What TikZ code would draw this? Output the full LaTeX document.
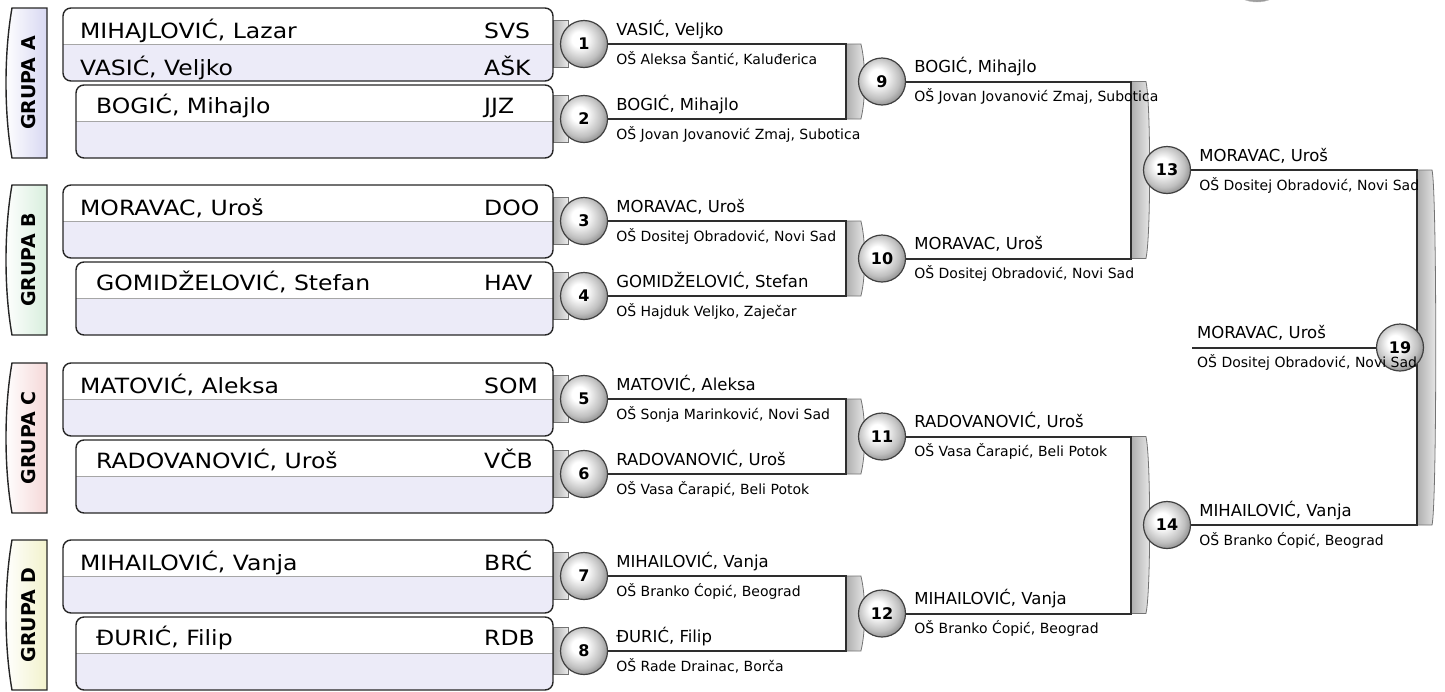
\documentclass[tikz,border=0pt]{standalone}
\usepackage{fontspec}
\setmainfont{DejaVu Sans}
\newfontfamily\boxfont[FakeStretch=1.12]{DejaVu Sans}
\usetikzlibrary{calc,backgrounds}
\definecolor{rowlav}{HTML}{ECEBF8}
\definecolor{grpA}{HTML}{D8D8F2}
\definecolor{grpB}{HTML}{D8EEDD}
\definecolor{grpC}{HTML}{F5D8D8}
\definecolor{grpD}{HTML}{F2F2CC}
\definecolor{wire}{HTML}{2E2E2E}
\pgfdeclareradialshading{knobshade}{\pgfpoint{-6bp}{6bp}}{color(0bp)=(white); color(8bp)=(white); color(22bp)=(black!25); color(28bp)=(black!42); color(50bp)=(black!42)}

\begin{document}
\begin{tikzpicture}[x=1pt,y=-1pt,
		knob/.style={circle,draw=black!75,line width=1.2pt,shading=knobshade,inner sep=0pt,minimum size=47pt,font=\bfseries\fontsize{16}{16}\selectfont},
		wire/.style={draw=wire,line width=2pt},
		bar/.style={draw=black!55,line width=0.8pt,left color=black!32,right color=black!8},
		pname/.style={font=\boxfont\fontsize{21}{21}\selectfont,inner sep=0pt,anchor=base west},
		wname/.style={font=\fontsize{16.5}{16.5}\selectfont,inner sep=0pt,anchor=base west},
		school/.style={font=\fontsize{14}{14}\selectfont,inner sep=0pt,anchor=base west},
		grp/.style={rotate=90,font=\bfseries\fontsize{19}{19}\selectfont}]
	\useasboundingbox (0,0) rectangle (1445,691);
	\begin{scope}
		\clip (0,0) rectangle (1445,691);
		\path[shading=knobshade,draw=black!25] (1257,-34) circle[radius=36];
	\end{scope}
	\foreach \g/\t/\col in {A/8/grpA,B/185/grpB,C/363/grpC,D/540/grpD}{
		\path[draw=black!85,line width=1.4pt,left color=white,right color=\col] (47,\t) -- (12,\t) .. controls (4,\t+45) and (4,\t+105) .. (12,\t+150) -- (47,\t+150) -- cycle;
		\node[grp] (g\g) at (29,\t+75) {GRUPA \g};
		\foreach \bx/\by in {63/0,76/77}{
			\begin{scope}
				\clip[rounded corners=8] (\bx,\t+\by) rectangle (553,\t+\by+73);
				\fill[white] (\bx,\t+\by) rectangle (553,\t+\by+36);
				\fill[rowlav] (\bx,\t+\by+36) rectangle (553,\t+\by+73);
			\end{scope}
			\draw[black!35,line width=1pt] (\bx,\t+\by+36) -- (553,\t+\by+36);
			\draw[black!85,line width=1.4pt,rounded corners=8] (\bx,\t+\by) rectangle (553,\t+\by+73);
		}
	}
	\foreach \nm/\cd/\x/\y [count=\i] in {{MIHAJLOVIĆ, Lazar}/SVS/80/38,{VASIĆ, Veljko}/AŠK/80/75,{BOGIĆ, Mihajlo}/JJZ/96/113,
		{MORAVAC, Uroš}/DOO/80/215,{GOMIDŽELOVIĆ, Stefan}/HAV/96/290,{MATOVIĆ, Aleksa}/SOM/80/393,
		{RADOVANOVIĆ, Uroš}/VČB/96/468,{MIHAILOVIĆ, Vanja}/BRĆ/80/570,{ĐURIĆ, Filip}/RDB/96/645}{
		\node[pname] (p\i) at (\x,\y) {\nm};
		\node[pname] (t\i) at (484,\y) {\cd};
	}
	\foreach \i/\y in {1/44,2/119,3/221,4/296,5/399,6/474,7/576,8/651}
		\node[knob] (m\i) at (584,\y) {\i};
	\foreach \a/\b/\c in {1/2/9,3/4/10,5/6/11,7/8/12}
		\node[knob] (m\c) at ($(m\a)!.5!(m\b)+(298,0)$) {\c};
	\foreach \a/\b/\c in {9/10/13,11/12/14}
		\node[knob] (m\c) at ($(m\a)!.5!(m\b)+(285,0)$) {\c};
	\node[knob] (m19) at ($(m13)!.5!(m14)+(233,0)$) {19};
	\foreach \c in {9,...,14}
		\coordinate (b\c) at ($(m\c.west)+(-12,0)$);
	\coordinate (b19) at ($(m19)+(17,0)$);
	\coordinate (f19) at ($(m19)+(-208,0)$);
	\foreach \i/\nm/\sc in {1/{VASIĆ, Veljko}/{OŠ Aleksa Šantić, Kaluđerica},2/{BOGIĆ, Mihajlo}/{OŠ Jovan Jovanović Zmaj, Subotica},
		3/{MORAVAC, Uroš}/{OŠ Dositej Obradović, Novi Sad},4/{GOMIDŽELOVIĆ, Stefan}/{OŠ Hajduk Veljko, Zaječar},
		5/{MATOVIĆ, Aleksa}/{OŠ Sonja Marinković, Novi Sad},6/{RADOVANOVIĆ, Uroš}/{OŠ Vasa Čarapić, Beli Potok},
		7/{MIHAILOVIĆ, Vanja}/{OŠ Branko Ćopić, Beograd},8/{ĐURIĆ, Filip}/{OŠ Rade Drainac, Borča},
		9/{BOGIĆ, Mihajlo}/{OŠ Jovan Jovanović Zmaj, Subotica},10/{MORAVAC, Uroš}/{OŠ Dositej Obradović, Novi Sad},
		11/{RADOVANOVIĆ, Uroš}/{OŠ Vasa Čarapić, Beli Potok},12/{MIHAILOVIĆ, Vanja}/{OŠ Branko Ćopić, Beograd},
		13/{MORAVAC, Uroš}/{OŠ Dositej Obradović, Novi Sad},14/{MIHAILOVIĆ, Vanja}/{OŠ Branko Ćopić, Beograd}}{
		\node[wname] (n\i) at ($(m\i.east)+(8,-9)$) {\nm};
		\node[school] (s\i) at ($(m\i.east)+(8,20)$) {\sc};
	}
	\node[wname] (n19) at ($(f19)+(5,-9)$) {MORAVAC, Uroš};
	\node[school] (s19) at ($(f19)+(5,20)$) {OŠ Dositej Obradović, Novi Sad};
	\begin{scope}[on background layer]
		\foreach \i in {1,...,8}
			\path[bar] ($(m\i)+(-31,-24)$) rectangle ($(m\i)+(-16,23)$);
		\foreach \a/\b/\c in {1/2/9,3/4/10,5/6/11,7/8/12,9/10/13,11/12/14,13/14/19}{
			\path[bar] (m\a -| b\c) -- ++(15,0) .. controls +(5,20) and +(5,-20) .. ($(m\b -| b\c)+(15,0)$) -- (m\b -| b\c) -- cycle;
			\draw[wire] (m\a.east) -| (b\c) |- (m\b.east);
		}
		\draw[wire] (m19.west) -- (f19);
	\end{scope}
\end{tikzpicture}
\end{document}
